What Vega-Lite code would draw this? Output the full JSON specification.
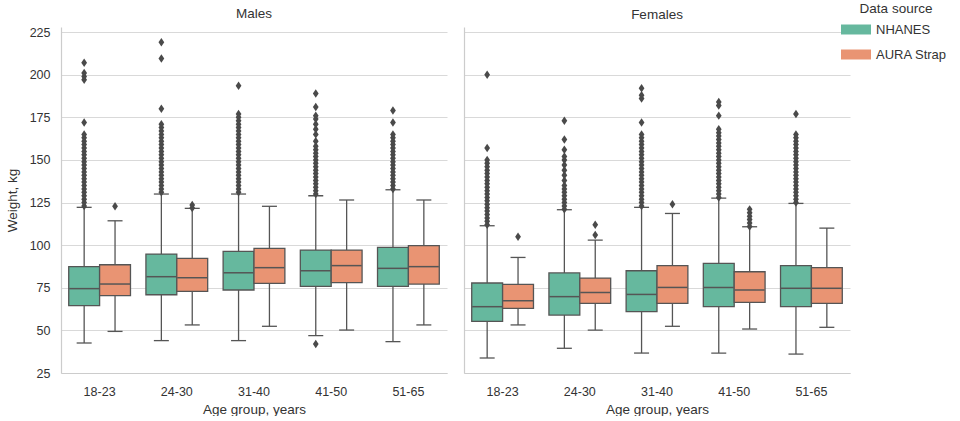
{
  "$schema": "https://vega.github.io/schema/vega-lite/v6.json",
  "background": "white",
  "padding": {"left": 5, "top": 2, "right": 5, "bottom": 0},
  "datasets": {
    "boxes": [
      {"sex": "Males", "age": "18-23", "source": "NHANES", "lower": 42.6, "q1": 64.5, "median": 74.5, "q3": 87.4, "upper": 122.2},
      {"sex": "Males", "age": "18-23", "source": "AURA Strap", "lower": 49.4, "q1": 70.4, "median": 77.2, "q3": 88.5, "upper": 114.3},
      {"sex": "Males", "age": "24-30", "source": "NHANES", "lower": 44, "q1": 70.9, "median": 81.5, "q3": 94.8, "upper": 130},
      {"sex": "Males", "age": "24-30", "source": "AURA Strap", "lower": 53.2, "q1": 72.9, "median": 80.9, "q3": 92.3, "upper": 121.6},
      {"sex": "Males", "age": "31-40", "source": "NHANES", "lower": 44, "q1": 73.7, "median": 83.8, "q3": 96.4, "upper": 130},
      {"sex": "Males", "age": "31-40", "source": "AURA Strap", "lower": 52.4, "q1": 77.6, "median": 86.8, "q3": 98.1, "upper": 122.8},
      {"sex": "Males", "age": "41-50", "source": "NHANES", "lower": 46.9, "q1": 75.8, "median": 85, "q3": 97.1, "upper": 129},
      {"sex": "Males", "age": "41-50", "source": "AURA Strap", "lower": 50.2, "q1": 78, "median": 88, "q3": 97.1, "upper": 126.5},
      {"sex": "Males", "age": "51-65", "source": "NHANES", "lower": 43.4, "q1": 75.8, "median": 86.4, "q3": 98.7, "upper": 132.5},
      {"sex": "Males", "age": "51-65", "source": "AURA Strap", "lower": 53.2, "q1": 77.2, "median": 87.4, "q3": 99.7, "upper": 126.5},
      {"sex": "Females", "age": "18-23", "source": "NHANES", "lower": 33.8, "q1": 55.3, "median": 63.9, "q3": 77.8, "upper": 111.4},
      {"sex": "Females", "age": "18-23", "source": "AURA Strap", "lower": 53.2, "q1": 62.9, "median": 67.4, "q3": 77, "upper": 92.8},
      {"sex": "Females", "age": "24-30", "source": "NHANES", "lower": 39.5, "q1": 59, "median": 69.8, "q3": 83.7, "upper": 120.8},
      {"sex": "Females", "age": "24-30", "source": "AURA Strap", "lower": 50.2, "q1": 65.9, "median": 72.3, "q3": 80.7, "upper": 103},
      {"sex": "Females", "age": "31-40", "source": "NHANES", "lower": 36.7, "q1": 61, "median": 71.1, "q3": 85, "upper": 122.2},
      {"sex": "Females", "age": "31-40", "source": "AURA Strap", "lower": 52.4, "q1": 65.9, "median": 75.2, "q3": 88, "upper": 118.6},
      {"sex": "Females", "age": "41-50", "source": "NHANES", "lower": 36.7, "q1": 63.9, "median": 75.2, "q3": 89.3, "upper": 127.6},
      {"sex": "Females", "age": "41-50", "source": "AURA Strap", "lower": 50.8, "q1": 66.4, "median": 73.7, "q3": 84.4, "upper": 110.8},
      {"sex": "Females", "age": "51-65", "source": "NHANES", "lower": 36.1, "q1": 63.9, "median": 74.7, "q3": 88, "upper": 124.5},
      {"sex": "Females", "age": "51-65", "source": "AURA Strap", "lower": 51.8, "q1": 65.9, "median": 74.7, "q3": 86.8, "upper": 110}
    ],
    "fliers": [
      {"sex": "Males", "age": "18-23", "source": "NHANES", "weight": 123},
      {"sex": "Males", "age": "18-23", "source": "NHANES", "weight": 125},
      {"sex": "Males", "age": "18-23", "source": "NHANES", "weight": 127},
      {"sex": "Males", "age": "18-23", "source": "NHANES", "weight": 129},
      {"sex": "Males", "age": "18-23", "source": "NHANES", "weight": 131},
      {"sex": "Males", "age": "18-23", "source": "NHANES", "weight": 133},
      {"sex": "Males", "age": "18-23", "source": "NHANES", "weight": 135},
      {"sex": "Males", "age": "18-23", "source": "NHANES", "weight": 137},
      {"sex": "Males", "age": "18-23", "source": "NHANES", "weight": 139},
      {"sex": "Males", "age": "18-23", "source": "NHANES", "weight": 141},
      {"sex": "Males", "age": "18-23", "source": "NHANES", "weight": 143},
      {"sex": "Males", "age": "18-23", "source": "NHANES", "weight": 145},
      {"sex": "Males", "age": "18-23", "source": "NHANES", "weight": 147},
      {"sex": "Males", "age": "18-23", "source": "NHANES", "weight": 149},
      {"sex": "Males", "age": "18-23", "source": "NHANES", "weight": 151},
      {"sex": "Males", "age": "18-23", "source": "NHANES", "weight": 153},
      {"sex": "Males", "age": "18-23", "source": "NHANES", "weight": 155},
      {"sex": "Males", "age": "18-23", "source": "NHANES", "weight": 157},
      {"sex": "Males", "age": "18-23", "source": "NHANES", "weight": 159},
      {"sex": "Males", "age": "18-23", "source": "NHANES", "weight": 161},
      {"sex": "Males", "age": "18-23", "source": "NHANES", "weight": 163},
      {"sex": "Males", "age": "18-23", "source": "NHANES", "weight": 165},
      {"sex": "Males", "age": "18-23", "source": "NHANES", "weight": 172},
      {"sex": "Males", "age": "18-23", "source": "NHANES", "weight": 197},
      {"sex": "Males", "age": "18-23", "source": "NHANES", "weight": 199},
      {"sex": "Males", "age": "18-23", "source": "NHANES", "weight": 201},
      {"sex": "Males", "age": "18-23", "source": "NHANES", "weight": 207},
      {"sex": "Males", "age": "18-23", "source": "AURA Strap", "weight": 122.8},
      {"sex": "Males", "age": "24-30", "source": "NHANES", "weight": 131},
      {"sex": "Males", "age": "24-30", "source": "NHANES", "weight": 133},
      {"sex": "Males", "age": "24-30", "source": "NHANES", "weight": 135},
      {"sex": "Males", "age": "24-30", "source": "NHANES", "weight": 137},
      {"sex": "Males", "age": "24-30", "source": "NHANES", "weight": 139},
      {"sex": "Males", "age": "24-30", "source": "NHANES", "weight": 141},
      {"sex": "Males", "age": "24-30", "source": "NHANES", "weight": 143},
      {"sex": "Males", "age": "24-30", "source": "NHANES", "weight": 145},
      {"sex": "Males", "age": "24-30", "source": "NHANES", "weight": 147},
      {"sex": "Males", "age": "24-30", "source": "NHANES", "weight": 149},
      {"sex": "Males", "age": "24-30", "source": "NHANES", "weight": 151},
      {"sex": "Males", "age": "24-30", "source": "NHANES", "weight": 153},
      {"sex": "Males", "age": "24-30", "source": "NHANES", "weight": 155},
      {"sex": "Males", "age": "24-30", "source": "NHANES", "weight": 157},
      {"sex": "Males", "age": "24-30", "source": "NHANES", "weight": 159},
      {"sex": "Males", "age": "24-30", "source": "NHANES", "weight": 161},
      {"sex": "Males", "age": "24-30", "source": "NHANES", "weight": 163},
      {"sex": "Males", "age": "24-30", "source": "NHANES", "weight": 165},
      {"sex": "Males", "age": "24-30", "source": "NHANES", "weight": 167},
      {"sex": "Males", "age": "24-30", "source": "NHANES", "weight": 169},
      {"sex": "Males", "age": "24-30", "source": "NHANES", "weight": 171},
      {"sex": "Males", "age": "24-30", "source": "NHANES", "weight": 180},
      {"sex": "Males", "age": "24-30", "source": "NHANES", "weight": 209.5},
      {"sex": "Males", "age": "24-30", "source": "NHANES", "weight": 219},
      {"sex": "Males", "age": "24-30", "source": "AURA Strap", "weight": 121.8},
      {"sex": "Males", "age": "24-30", "source": "AURA Strap", "weight": 123.5},
      {"sex": "Males", "age": "31-40", "source": "NHANES", "weight": 131},
      {"sex": "Males", "age": "31-40", "source": "NHANES", "weight": 133},
      {"sex": "Males", "age": "31-40", "source": "NHANES", "weight": 135},
      {"sex": "Males", "age": "31-40", "source": "NHANES", "weight": 137},
      {"sex": "Males", "age": "31-40", "source": "NHANES", "weight": 139},
      {"sex": "Males", "age": "31-40", "source": "NHANES", "weight": 141},
      {"sex": "Males", "age": "31-40", "source": "NHANES", "weight": 143},
      {"sex": "Males", "age": "31-40", "source": "NHANES", "weight": 145},
      {"sex": "Males", "age": "31-40", "source": "NHANES", "weight": 147},
      {"sex": "Males", "age": "31-40", "source": "NHANES", "weight": 149},
      {"sex": "Males", "age": "31-40", "source": "NHANES", "weight": 151},
      {"sex": "Males", "age": "31-40", "source": "NHANES", "weight": 153},
      {"sex": "Males", "age": "31-40", "source": "NHANES", "weight": 155},
      {"sex": "Males", "age": "31-40", "source": "NHANES", "weight": 157},
      {"sex": "Males", "age": "31-40", "source": "NHANES", "weight": 159},
      {"sex": "Males", "age": "31-40", "source": "NHANES", "weight": 161},
      {"sex": "Males", "age": "31-40", "source": "NHANES", "weight": 163},
      {"sex": "Males", "age": "31-40", "source": "NHANES", "weight": 165},
      {"sex": "Males", "age": "31-40", "source": "NHANES", "weight": 167},
      {"sex": "Males", "age": "31-40", "source": "NHANES", "weight": 169},
      {"sex": "Males", "age": "31-40", "source": "NHANES", "weight": 171},
      {"sex": "Males", "age": "31-40", "source": "NHANES", "weight": 173},
      {"sex": "Males", "age": "31-40", "source": "NHANES", "weight": 175},
      {"sex": "Males", "age": "31-40", "source": "NHANES", "weight": 177},
      {"sex": "Males", "age": "31-40", "source": "NHANES", "weight": 193.5},
      {"sex": "Males", "age": "41-50", "source": "NHANES", "weight": 130},
      {"sex": "Males", "age": "41-50", "source": "NHANES", "weight": 132},
      {"sex": "Males", "age": "41-50", "source": "NHANES", "weight": 134},
      {"sex": "Males", "age": "41-50", "source": "NHANES", "weight": 136},
      {"sex": "Males", "age": "41-50", "source": "NHANES", "weight": 138},
      {"sex": "Males", "age": "41-50", "source": "NHANES", "weight": 140},
      {"sex": "Males", "age": "41-50", "source": "NHANES", "weight": 142},
      {"sex": "Males", "age": "41-50", "source": "NHANES", "weight": 144},
      {"sex": "Males", "age": "41-50", "source": "NHANES", "weight": 146},
      {"sex": "Males", "age": "41-50", "source": "NHANES", "weight": 148},
      {"sex": "Males", "age": "41-50", "source": "NHANES", "weight": 150},
      {"sex": "Males", "age": "41-50", "source": "NHANES", "weight": 152},
      {"sex": "Males", "age": "41-50", "source": "NHANES", "weight": 154},
      {"sex": "Males", "age": "41-50", "source": "NHANES", "weight": 156},
      {"sex": "Males", "age": "41-50", "source": "NHANES", "weight": 158},
      {"sex": "Males", "age": "41-50", "source": "NHANES", "weight": 161},
      {"sex": "Males", "age": "41-50", "source": "NHANES", "weight": 165},
      {"sex": "Males", "age": "41-50", "source": "NHANES", "weight": 168},
      {"sex": "Males", "age": "41-50", "source": "NHANES", "weight": 171},
      {"sex": "Males", "age": "41-50", "source": "NHANES", "weight": 174},
      {"sex": "Males", "age": "41-50", "source": "NHANES", "weight": 176},
      {"sex": "Males", "age": "41-50", "source": "NHANES", "weight": 181},
      {"sex": "Males", "age": "41-50", "source": "NHANES", "weight": 189},
      {"sex": "Males", "age": "41-50", "source": "NHANES", "weight": 42},
      {"sex": "Males", "age": "51-65", "source": "NHANES", "weight": 133},
      {"sex": "Males", "age": "51-65", "source": "NHANES", "weight": 135},
      {"sex": "Males", "age": "51-65", "source": "NHANES", "weight": 137},
      {"sex": "Males", "age": "51-65", "source": "NHANES", "weight": 139},
      {"sex": "Males", "age": "51-65", "source": "NHANES", "weight": 141},
      {"sex": "Males", "age": "51-65", "source": "NHANES", "weight": 143},
      {"sex": "Males", "age": "51-65", "source": "NHANES", "weight": 145},
      {"sex": "Males", "age": "51-65", "source": "NHANES", "weight": 147},
      {"sex": "Males", "age": "51-65", "source": "NHANES", "weight": 149},
      {"sex": "Males", "age": "51-65", "source": "NHANES", "weight": 151},
      {"sex": "Males", "age": "51-65", "source": "NHANES", "weight": 153},
      {"sex": "Males", "age": "51-65", "source": "NHANES", "weight": 155},
      {"sex": "Males", "age": "51-65", "source": "NHANES", "weight": 157},
      {"sex": "Males", "age": "51-65", "source": "NHANES", "weight": 159},
      {"sex": "Males", "age": "51-65", "source": "NHANES", "weight": 161},
      {"sex": "Males", "age": "51-65", "source": "NHANES", "weight": 163},
      {"sex": "Males", "age": "51-65", "source": "NHANES", "weight": 165},
      {"sex": "Males", "age": "51-65", "source": "NHANES", "weight": 172},
      {"sex": "Males", "age": "51-65", "source": "NHANES", "weight": 179},
      {"sex": "Females", "age": "18-23", "source": "NHANES", "weight": 112},
      {"sex": "Females", "age": "18-23", "source": "NHANES", "weight": 114},
      {"sex": "Females", "age": "18-23", "source": "NHANES", "weight": 116},
      {"sex": "Females", "age": "18-23", "source": "NHANES", "weight": 118},
      {"sex": "Females", "age": "18-23", "source": "NHANES", "weight": 120},
      {"sex": "Females", "age": "18-23", "source": "NHANES", "weight": 122},
      {"sex": "Females", "age": "18-23", "source": "NHANES", "weight": 124},
      {"sex": "Females", "age": "18-23", "source": "NHANES", "weight": 126},
      {"sex": "Females", "age": "18-23", "source": "NHANES", "weight": 128},
      {"sex": "Females", "age": "18-23", "source": "NHANES", "weight": 130},
      {"sex": "Females", "age": "18-23", "source": "NHANES", "weight": 132},
      {"sex": "Females", "age": "18-23", "source": "NHANES", "weight": 134},
      {"sex": "Females", "age": "18-23", "source": "NHANES", "weight": 136},
      {"sex": "Females", "age": "18-23", "source": "NHANES", "weight": 138},
      {"sex": "Females", "age": "18-23", "source": "NHANES", "weight": 140},
      {"sex": "Females", "age": "18-23", "source": "NHANES", "weight": 142},
      {"sex": "Females", "age": "18-23", "source": "NHANES", "weight": 144},
      {"sex": "Females", "age": "18-23", "source": "NHANES", "weight": 146},
      {"sex": "Females", "age": "18-23", "source": "NHANES", "weight": 148},
      {"sex": "Females", "age": "18-23", "source": "NHANES", "weight": 150},
      {"sex": "Females", "age": "18-23", "source": "NHANES", "weight": 157},
      {"sex": "Females", "age": "18-23", "source": "NHANES", "weight": 200},
      {"sex": "Females", "age": "18-23", "source": "AURA Strap", "weight": 105},
      {"sex": "Females", "age": "24-30", "source": "NHANES", "weight": 121},
      {"sex": "Females", "age": "24-30", "source": "NHANES", "weight": 123},
      {"sex": "Females", "age": "24-30", "source": "NHANES", "weight": 125},
      {"sex": "Females", "age": "24-30", "source": "NHANES", "weight": 127},
      {"sex": "Females", "age": "24-30", "source": "NHANES", "weight": 129},
      {"sex": "Females", "age": "24-30", "source": "NHANES", "weight": 131},
      {"sex": "Females", "age": "24-30", "source": "NHANES", "weight": 133},
      {"sex": "Females", "age": "24-30", "source": "NHANES", "weight": 135},
      {"sex": "Females", "age": "24-30", "source": "NHANES", "weight": 138},
      {"sex": "Females", "age": "24-30", "source": "NHANES", "weight": 141},
      {"sex": "Females", "age": "24-30", "source": "NHANES", "weight": 144},
      {"sex": "Females", "age": "24-30", "source": "NHANES", "weight": 147},
      {"sex": "Females", "age": "24-30", "source": "NHANES", "weight": 150},
      {"sex": "Females", "age": "24-30", "source": "NHANES", "weight": 152},
      {"sex": "Females", "age": "24-30", "source": "NHANES", "weight": 156},
      {"sex": "Females", "age": "24-30", "source": "NHANES", "weight": 162},
      {"sex": "Females", "age": "24-30", "source": "NHANES", "weight": 173},
      {"sex": "Females", "age": "24-30", "source": "AURA Strap", "weight": 106},
      {"sex": "Females", "age": "24-30", "source": "AURA Strap", "weight": 112},
      {"sex": "Females", "age": "31-40", "source": "NHANES", "weight": 123},
      {"sex": "Females", "age": "31-40", "source": "NHANES", "weight": 125},
      {"sex": "Females", "age": "31-40", "source": "NHANES", "weight": 127},
      {"sex": "Females", "age": "31-40", "source": "NHANES", "weight": 129},
      {"sex": "Females", "age": "31-40", "source": "NHANES", "weight": 131},
      {"sex": "Females", "age": "31-40", "source": "NHANES", "weight": 133},
      {"sex": "Females", "age": "31-40", "source": "NHANES", "weight": 135},
      {"sex": "Females", "age": "31-40", "source": "NHANES", "weight": 137},
      {"sex": "Females", "age": "31-40", "source": "NHANES", "weight": 139},
      {"sex": "Females", "age": "31-40", "source": "NHANES", "weight": 141},
      {"sex": "Females", "age": "31-40", "source": "NHANES", "weight": 143},
      {"sex": "Females", "age": "31-40", "source": "NHANES", "weight": 145},
      {"sex": "Females", "age": "31-40", "source": "NHANES", "weight": 147},
      {"sex": "Females", "age": "31-40", "source": "NHANES", "weight": 149},
      {"sex": "Females", "age": "31-40", "source": "NHANES", "weight": 151},
      {"sex": "Females", "age": "31-40", "source": "NHANES", "weight": 153},
      {"sex": "Females", "age": "31-40", "source": "NHANES", "weight": 155},
      {"sex": "Females", "age": "31-40", "source": "NHANES", "weight": 157},
      {"sex": "Females", "age": "31-40", "source": "NHANES", "weight": 159},
      {"sex": "Females", "age": "31-40", "source": "NHANES", "weight": 161},
      {"sex": "Females", "age": "31-40", "source": "NHANES", "weight": 163},
      {"sex": "Females", "age": "31-40", "source": "NHANES", "weight": 165},
      {"sex": "Females", "age": "31-40", "source": "NHANES", "weight": 172},
      {"sex": "Females", "age": "31-40", "source": "NHANES", "weight": 186},
      {"sex": "Females", "age": "31-40", "source": "NHANES", "weight": 188},
      {"sex": "Females", "age": "31-40", "source": "NHANES", "weight": 192},
      {"sex": "Females", "age": "31-40", "source": "AURA Strap", "weight": 124},
      {"sex": "Females", "age": "41-50", "source": "NHANES", "weight": 128},
      {"sex": "Females", "age": "41-50", "source": "NHANES", "weight": 130},
      {"sex": "Females", "age": "41-50", "source": "NHANES", "weight": 132},
      {"sex": "Females", "age": "41-50", "source": "NHANES", "weight": 134},
      {"sex": "Females", "age": "41-50", "source": "NHANES", "weight": 136},
      {"sex": "Females", "age": "41-50", "source": "NHANES", "weight": 138},
      {"sex": "Females", "age": "41-50", "source": "NHANES", "weight": 140},
      {"sex": "Females", "age": "41-50", "source": "NHANES", "weight": 142},
      {"sex": "Females", "age": "41-50", "source": "NHANES", "weight": 144},
      {"sex": "Females", "age": "41-50", "source": "NHANES", "weight": 146},
      {"sex": "Females", "age": "41-50", "source": "NHANES", "weight": 148},
      {"sex": "Females", "age": "41-50", "source": "NHANES", "weight": 150},
      {"sex": "Females", "age": "41-50", "source": "NHANES", "weight": 152},
      {"sex": "Females", "age": "41-50", "source": "NHANES", "weight": 154},
      {"sex": "Females", "age": "41-50", "source": "NHANES", "weight": 156},
      {"sex": "Females", "age": "41-50", "source": "NHANES", "weight": 158},
      {"sex": "Females", "age": "41-50", "source": "NHANES", "weight": 160},
      {"sex": "Females", "age": "41-50", "source": "NHANES", "weight": 162},
      {"sex": "Females", "age": "41-50", "source": "NHANES", "weight": 164},
      {"sex": "Females", "age": "41-50", "source": "NHANES", "weight": 166},
      {"sex": "Females", "age": "41-50", "source": "NHANES", "weight": 168},
      {"sex": "Females", "age": "41-50", "source": "NHANES", "weight": 176},
      {"sex": "Females", "age": "41-50", "source": "NHANES", "weight": 182},
      {"sex": "Females", "age": "41-50", "source": "NHANES", "weight": 184},
      {"sex": "Females", "age": "41-50", "source": "AURA Strap", "weight": 111},
      {"sex": "Females", "age": "41-50", "source": "AURA Strap", "weight": 113},
      {"sex": "Females", "age": "41-50", "source": "AURA Strap", "weight": 115},
      {"sex": "Females", "age": "41-50", "source": "AURA Strap", "weight": 117},
      {"sex": "Females", "age": "41-50", "source": "AURA Strap", "weight": 119},
      {"sex": "Females", "age": "41-50", "source": "AURA Strap", "weight": 121},
      {"sex": "Females", "age": "51-65", "source": "NHANES", "weight": 125},
      {"sex": "Females", "age": "51-65", "source": "NHANES", "weight": 127},
      {"sex": "Females", "age": "51-65", "source": "NHANES", "weight": 129},
      {"sex": "Females", "age": "51-65", "source": "NHANES", "weight": 131},
      {"sex": "Females", "age": "51-65", "source": "NHANES", "weight": 133},
      {"sex": "Females", "age": "51-65", "source": "NHANES", "weight": 135},
      {"sex": "Females", "age": "51-65", "source": "NHANES", "weight": 137},
      {"sex": "Females", "age": "51-65", "source": "NHANES", "weight": 139},
      {"sex": "Females", "age": "51-65", "source": "NHANES", "weight": 141},
      {"sex": "Females", "age": "51-65", "source": "NHANES", "weight": 143},
      {"sex": "Females", "age": "51-65", "source": "NHANES", "weight": 145},
      {"sex": "Females", "age": "51-65", "source": "NHANES", "weight": 147},
      {"sex": "Females", "age": "51-65", "source": "NHANES", "weight": 149},
      {"sex": "Females", "age": "51-65", "source": "NHANES", "weight": 151},
      {"sex": "Females", "age": "51-65", "source": "NHANES", "weight": 153},
      {"sex": "Females", "age": "51-65", "source": "NHANES", "weight": 155},
      {"sex": "Females", "age": "51-65", "source": "NHANES", "weight": 157},
      {"sex": "Females", "age": "51-65", "source": "NHANES", "weight": 159},
      {"sex": "Females", "age": "51-65", "source": "NHANES", "weight": 161},
      {"sex": "Females", "age": "51-65", "source": "NHANES", "weight": 163},
      {"sex": "Females", "age": "51-65", "source": "NHANES", "weight": 165},
      {"sex": "Females", "age": "51-65", "source": "NHANES", "weight": 177}
    ]
  },
  "spacing": 17,
  "hconcat": [
    {
      "title": "Males",
      "width": 386,
      "height": 346,
      "layer": [
        {
          "data": {"name": "boxes"},
          "transform": [{"filter": "datum.sex == 'Males'"}],
          "mark": {"type": "rule", "color": "#555555", "strokeWidth": 1.3},
          "encoding": {
            "x": {"field": "age", "type": "nominal", "scale": {"paddingInner": 0, "paddingOuter": 0}, "title": "Age group, years"},
            "xOffset": {"field": "source", "type": "nominal", "sort": ["NHANES", "AURA Strap"], "scale": {"paddingOuter": 0.25, "paddingInner": 0}},
            "y": {"field": "lower", "type": "quantitative", "scale": {"domain": [25, 228], "nice": false, "zero": false}, "title": "Weight, kg", "axis": {"values": [25, 50, 75, 100, 125, 150, 175, 200, 225]}},
            "y2": {"field": "upper"}
          }
        },
        {
          "data": {"name": "boxes"},
          "transform": [{"filter": "datum.sex == 'Males'"}],
          "mark": {"type": "bar", "stroke": "#555555", "strokeWidth": 1.3},
          "encoding": {
            "x": {"field": "age", "type": "nominal"},
            "xOffset": {"field": "source", "type": "nominal", "sort": ["NHANES", "AURA Strap"]},
            "y": {"field": "q1", "type": "quantitative"},
            "y2": {"field": "q3"},
            "color": {"field": "source", "type": "nominal", "sort": ["NHANES", "AURA Strap"], "scale": {"domain": ["NHANES", "AURA Strap"], "range": ["#66b89e", "#e99473"]}, "title": "Data source"}
          }
        },
        {
          "data": {"name": "boxes"},
          "transform": [{"filter": "datum.sex == 'Males'"}],
          "mark": {"type": "tick", "orient": "horizontal", "color": "#555555", "thickness": 1.5, "size": 30, "opacity": 1},
          "encoding": {
            "x": {"field": "age", "type": "nominal"},
            "xOffset": {"field": "source", "type": "nominal", "sort": ["NHANES", "AURA Strap"]},
            "y": {"field": "median", "type": "quantitative"}
          }
        },
        {
          "data": {"name": "boxes"},
          "transform": [{"filter": "datum.sex == 'Males'"}],
          "mark": {"type": "tick", "orient": "horizontal", "color": "#555555", "thickness": 1.3, "size": 15, "opacity": 1},
          "encoding": {
            "x": {"field": "age", "type": "nominal"},
            "xOffset": {"field": "source", "type": "nominal", "sort": ["NHANES", "AURA Strap"]},
            "y": {"field": "upper", "type": "quantitative"}
          }
        },
        {
          "data": {"name": "boxes"},
          "transform": [{"filter": "datum.sex == 'Males'"}],
          "mark": {"type": "tick", "orient": "horizontal", "color": "#555555", "thickness": 1.3, "size": 15, "opacity": 1},
          "encoding": {
            "x": {"field": "age", "type": "nominal"},
            "xOffset": {"field": "source", "type": "nominal", "sort": ["NHANES", "AURA Strap"]},
            "y": {"field": "lower", "type": "quantitative"}
          }
        },
        {
          "data": {"name": "fliers"},
          "transform": [{"filter": "datum.sex == 'Males'"}],
          "mark": {"type": "point", "filled": true, "color": "#4a4a4a", "opacity": 1, "size": 72, "shape": "M0,-1L0.68,0L0,1L-0.68,0Z"},
          "encoding": {
            "x": {"field": "age", "type": "nominal"},
            "xOffset": {"field": "source", "type": "nominal", "sort": ["NHANES", "AURA Strap"]},
            "y": {"field": "weight", "type": "quantitative"}
          }
        }
      ]
    },
    {
      "title": "Females",
      "width": 386,
      "height": 346,
      "layer": [
        {
          "data": {"name": "boxes"},
          "transform": [{"filter": "datum.sex == 'Females'"}],
          "mark": {"type": "rule", "color": "#555555", "strokeWidth": 1.3},
          "encoding": {
            "x": {"field": "age", "type": "nominal", "scale": {"paddingInner": 0, "paddingOuter": 0}, "title": "Age group, years"},
            "xOffset": {"field": "source", "type": "nominal", "sort": ["NHANES", "AURA Strap"], "scale": {"paddingOuter": 0.25, "paddingInner": 0}},
            "y": {"field": "lower", "type": "quantitative", "scale": {"domain": [25, 228], "nice": false, "zero": false}, "title": null, "axis": {"values": [25, 50, 75, 100, 125, 150, 175, 200, 225], "labels": false}},
            "y2": {"field": "upper"}
          }
        },
        {
          "data": {"name": "boxes"},
          "transform": [{"filter": "datum.sex == 'Females'"}],
          "mark": {"type": "bar", "stroke": "#555555", "strokeWidth": 1.3},
          "encoding": {
            "x": {"field": "age", "type": "nominal"},
            "xOffset": {"field": "source", "type": "nominal", "sort": ["NHANES", "AURA Strap"]},
            "y": {"field": "q1", "type": "quantitative"},
            "y2": {"field": "q3"},
            "color": {"field": "source", "type": "nominal", "sort": ["NHANES", "AURA Strap"], "scale": {"domain": ["NHANES", "AURA Strap"], "range": ["#66b89e", "#e99473"]}, "title": "Data source"}
          }
        },
        {
          "data": {"name": "boxes"},
          "transform": [{"filter": "datum.sex == 'Females'"}],
          "mark": {"type": "tick", "orient": "horizontal", "color": "#555555", "thickness": 1.5, "size": 30, "opacity": 1},
          "encoding": {
            "x": {"field": "age", "type": "nominal"},
            "xOffset": {"field": "source", "type": "nominal", "sort": ["NHANES", "AURA Strap"]},
            "y": {"field": "median", "type": "quantitative"}
          }
        },
        {
          "data": {"name": "boxes"},
          "transform": [{"filter": "datum.sex == 'Females'"}],
          "mark": {"type": "tick", "orient": "horizontal", "color": "#555555", "thickness": 1.3, "size": 15, "opacity": 1},
          "encoding": {
            "x": {"field": "age", "type": "nominal"},
            "xOffset": {"field": "source", "type": "nominal", "sort": ["NHANES", "AURA Strap"]},
            "y": {"field": "upper", "type": "quantitative"}
          }
        },
        {
          "data": {"name": "boxes"},
          "transform": [{"filter": "datum.sex == 'Females'"}],
          "mark": {"type": "tick", "orient": "horizontal", "color": "#555555", "thickness": 1.3, "size": 15, "opacity": 1},
          "encoding": {
            "x": {"field": "age", "type": "nominal"},
            "xOffset": {"field": "source", "type": "nominal", "sort": ["NHANES", "AURA Strap"]},
            "y": {"field": "lower", "type": "quantitative"}
          }
        },
        {
          "data": {"name": "fliers"},
          "transform": [{"filter": "datum.sex == 'Females'"}],
          "mark": {"type": "point", "filled": true, "color": "#4a4a4a", "opacity": 1, "size": 72, "shape": "M0,-1L0.68,0L0,1L-0.68,0Z"},
          "encoding": {
            "x": {"field": "age", "type": "nominal"},
            "xOffset": {"field": "source", "type": "nominal", "sort": ["NHANES", "AURA Strap"]},
            "y": {"field": "weight", "type": "quantitative"}
          }
        }
      ]
    }
  ],
  "config": {
    "font": "Liberation Sans",
    "view": {"stroke": null},
    "title": {"fontSize": 13.5, "fontWeight": "normal", "color": "#333333", "offset": 6},
    "axis": {
      "labelFontSize": 12.5,
      "labelColor": "#333333",
      "titleFontSize": 13.5,
      "titleFontWeight": "normal",
      "titleColor": "#333333",
      "domainColor": "#cccccc",
      "domainWidth": 1.2,
      "ticks": false,
      "gridColor": "#d9d9d9",
      "gridWidth": 1.1
    },
    "axisX": {"grid": false, "labelPadding": 12, "labelAngle": 0, "titlePadding": 5},
    "axisY": {"grid": true, "labelPadding": 11, "titlePadding": 10},
    "legend": {
      "orient": "none",
      "legendX": 785,
      "legendY": -25,
      "titleFontSize": 13.5,
      "titleFontWeight": "normal",
      "titleColor": "#333333",
      "titleAlign": "center",
      "titleAnchor": "middle",
      "titlePadding": 4,
      "labelFontSize": 13,
      "labelColor": "#333333",
      "symbolType": "M-1.5,-0.5H1.5V0.5H-1.5Z",
      "symbolSize": 400,
      "symbolStrokeWidth": 0,
      "symbolOpacity": 1,
      "labelOffset": 10,
      "rowPadding": 8
    }
  }
}
